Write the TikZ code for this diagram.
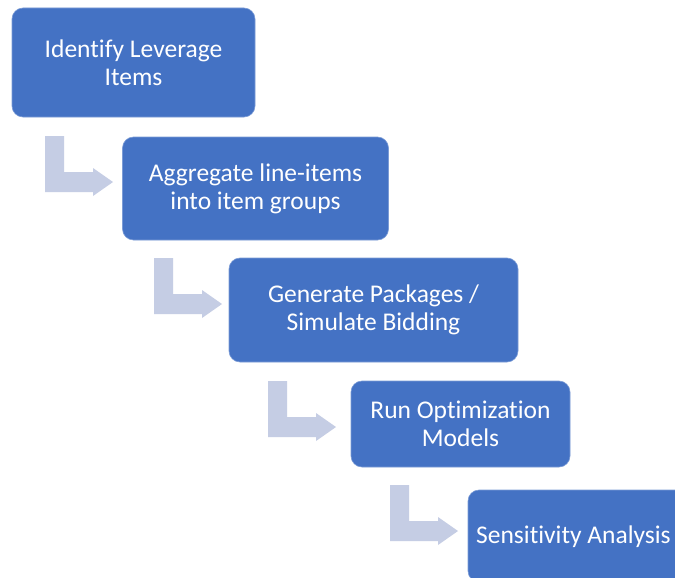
\documentclass[tikz,border=0pt]{standalone}
\usepackage{fontspec}
\setmainfont{Carlito}[Ligatures={NoCommon}]
\definecolor{boxblue}{HTML}{4472C4}
\definecolor{arrowgrey}{HTML}{C5CDE4}
\tikzset{
  stepbox/.style={fill=boxblue, draw=boxblue!70!white, line width=0.6pt, rounded corners=11pt,
    text=white, align=center, inner sep=0pt,
    font=\fontsize{25.5}{28}\selectfont},
  bent/.pic={
    \fill[arrowgrey] (0,0) -- (19,0) -- (19,36) -- (48,36) -- (48,32) -- (68,46)
      -- (48,60) -- (48,56) -- (0,56) -- cycle;
  }
}
\begin{document}
\begin{tikzpicture}[x=1pt,y=-1pt]
\useasboundingbox (0,0) rectangle (675,578);
\clip (0,0) rectangle (675,578);
\fill[white] (0,0) rectangle (675,578);
\node[stepbox, minimum width=243pt, minimum height=109pt] (b1) at (133.5,62.5) {Identify Leverage\\Items};
\node[stepbox, minimum width=266pt, minimum height=103pt] (b2) at (255.5,188.5) {Aggregate line-items\\into item groups};
\node[stepbox, minimum width=289pt, minimum height=104pt] (b3) at (373.5,310) {Generate Packages /\\Simulate Bidding};
\node[stepbox, minimum width=219pt, minimum height=86pt] (b4) at (460.5,424) {Run Optimization\\Models};
\node[stepbox, minimum width=240pt, minimum height=92pt] (b5) at (588,536) {};
\node[text=white, anchor=west, inner sep=0pt, font=\fontsize{25.5}{28}\selectfont] (t5) at (476,537) {Sensitivity Analysis};
\pic at (45,136) {bent};
\pic at (154,258) {bent};
\pic at (268,381) {bent};
\pic at (390,485) {bent};
\end{tikzpicture}
\end{document}
